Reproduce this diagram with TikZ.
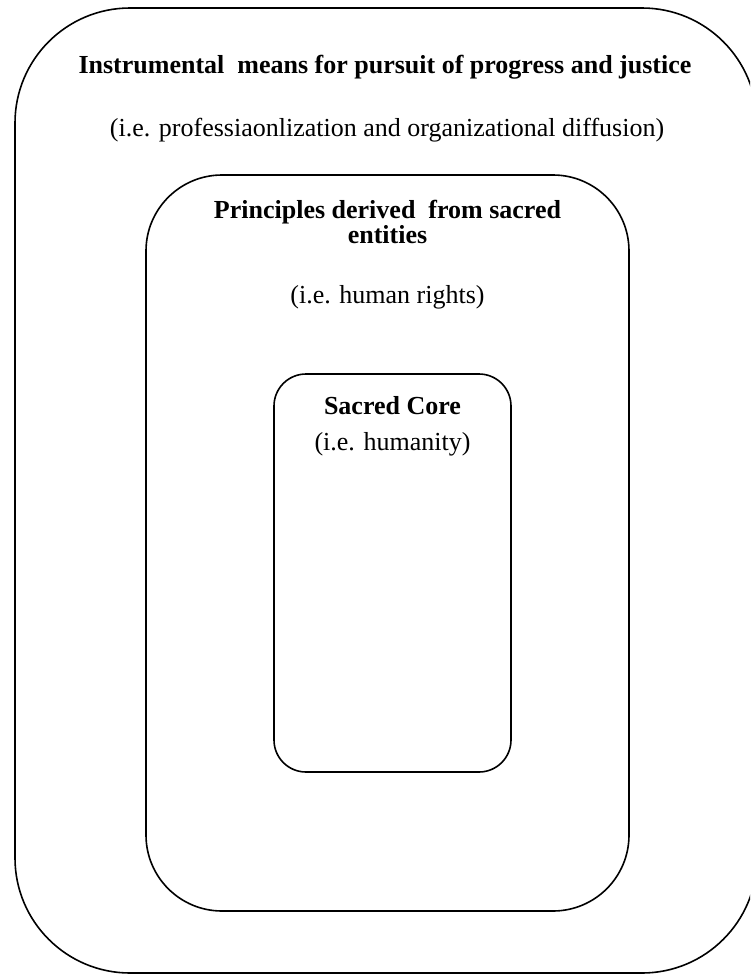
\documentclass[tikz,border=0pt]{standalone}
\usepackage{fontspec}
\setmainfont{Liberation Serif}
\begin{document}
\begin{tikzpicture}[x=1pt,y=-1pt,
  ring/.style={draw=black,line width=1.6pt,rectangle,inner sep=0pt},
  head/.style={font=\fontsize{26}{21}\selectfont\bfseries,inner sep=0pt,anchor=base,align=center},
  note/.style={font=\fontsize{26}{28}\selectfont,inner sep=0pt,anchor=base}]
  \useasboundingbox (0,0) rectangle (750,975);
  \clip (0,0) rectangle (750,975);
  % nested rounded frames
  \node[ring,rounded corners=115pt,minimum width=742pt,minimum height=965pt] (outer) at (386,490.5) {};
  \node[ring,rounded corners=76pt,minimum width=483pt,minimum height=736pt] (middle) at (387.5,543) {};
  \node[ring,rounded corners=32pt,minimum width=237pt,minimum height=398pt] (inner) at (392.5,573) {};
  % labels of the outer frame
  \node[head] (outerhead) at (385,73) {Instrumental\ \ means for pursuit of progress and justice};
  \node[note] (outernote) at (387,136) {(i.e. professiaonlization and organizational diffusion)};
  % labels of the middle frame (base anchor sits on the last line)
  \node[head] (midhead) at (387.5,243) {Principles derived\ \ from sacred\\entities};
  \node[note] (midnote) at (387.5,303) {(i.e. human rights)};
  % labels of the core
  \node[head] (corehead) at (392.5,414) {Sacred Core};
  \node[note] (corenote) at (392.5,450) {(i.e. humanity)};
\end{tikzpicture}
\end{document}
